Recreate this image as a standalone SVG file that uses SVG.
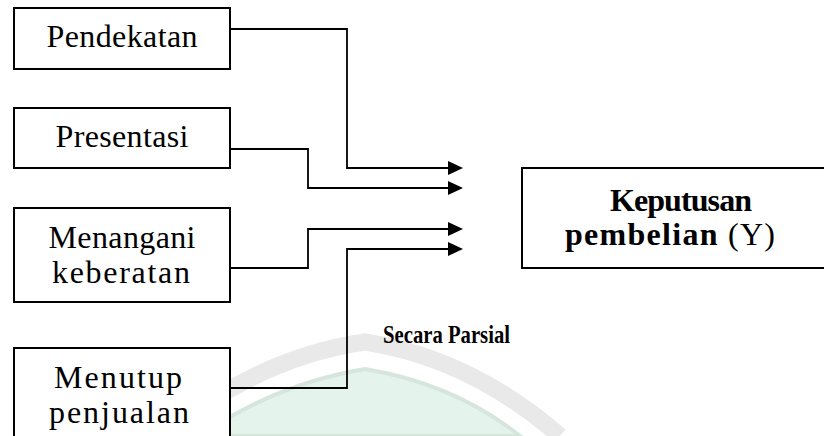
<svg xmlns="http://www.w3.org/2000/svg" width="824" height="436" viewBox="0 0 824 436">
  <style>
    .box { fill: #ffffff; stroke: #000000; stroke-width: 2; }
    .wire { fill: none; stroke: #000000; stroke-width: 1.8; marker-end: url(#head); }
  </style>
  <defs>
    <marker id="head" markerUnits="userSpaceOnUse" markerWidth="16" markerHeight="14" refX="1" refY="7" orient="auto">
      <path d="M0,0 L15,7 L0,14 Z" fill="#000000"/>
    </marker>
  </defs>

  <rect width="824" height="436" fill="#ffffff"/>

  <!-- faint arch emblem in the background -->
  <g id="emblem">
    <path d="M165,436 Q255,358 365,342 Q470,358 560,436" fill="none" stroke="#e9e9e9" stroke-width="17"/>
    <path d="M200,436 Q275,384 365,369 Q455,384 520,436 Z" fill="#e4f3eb" stroke="#d7e6dc" stroke-width="4"/>
  </g>

  <!-- connectors -->
  <g id="connectors">
    <path class="wire" d="M230,29 H347 V168 H449"/>
    <path class="wire" d="M230,149 H308 V188 H449"/>
    <path class="wire" d="M230,268 H308 V229 H449"/>
    <path class="wire" d="M230,388 H347 V249 H449"/>
  </g>

  <g font-family="Liberation Serif, Times New Roman, serif" font-size="32" text-anchor="middle" fill="#000000">
    <g id="pendekatan">
      <rect class="box" x="14" y="8" width="216" height="61"/>
      <text x="122" y="47" textLength="151">Pendekatan</text>
    </g>

    <g id="presentasi">
      <rect class="box" x="14" y="108" width="216" height="60"/>
      <text x="122" y="147" textLength="133">Presentasi</text>
    </g>

    <g id="menangani-keberatan">
      <rect class="box" x="14" y="208" width="216" height="94"/>
      <text x="122" y="248" textLength="147">Menangani</text>
      <text x="121" y="283" textLength="138">keberatan</text>
    </g>

    <g id="menutup-penjualan">
      <rect class="box" x="14" y="348" width="216" height="96"/>
      <text x="118" y="388" textLength="128">Menutup</text>
      <text x="119" y="423" textLength="140">penjualan</text>
    </g>

    <g id="keputusan-pembelian">
      <rect class="box" x="522" y="168" width="320" height="100"/>
      <text x="681" y="211" font-weight="bold" textLength="142">Keputusan</text>
      <text x="670" y="245" textLength="210"><tspan font-weight="bold">pembelian</tspan> (Y)</text>
    </g>
  </g>

  <g id="secara-parsial">
    <text x="383" y="343" font-family="Liberation Serif, Times New Roman, serif" font-weight="bold" font-size="25" textLength="127" lengthAdjust="spacingAndGlyphs">Secara Parsial</text>
  </g>
</svg>
